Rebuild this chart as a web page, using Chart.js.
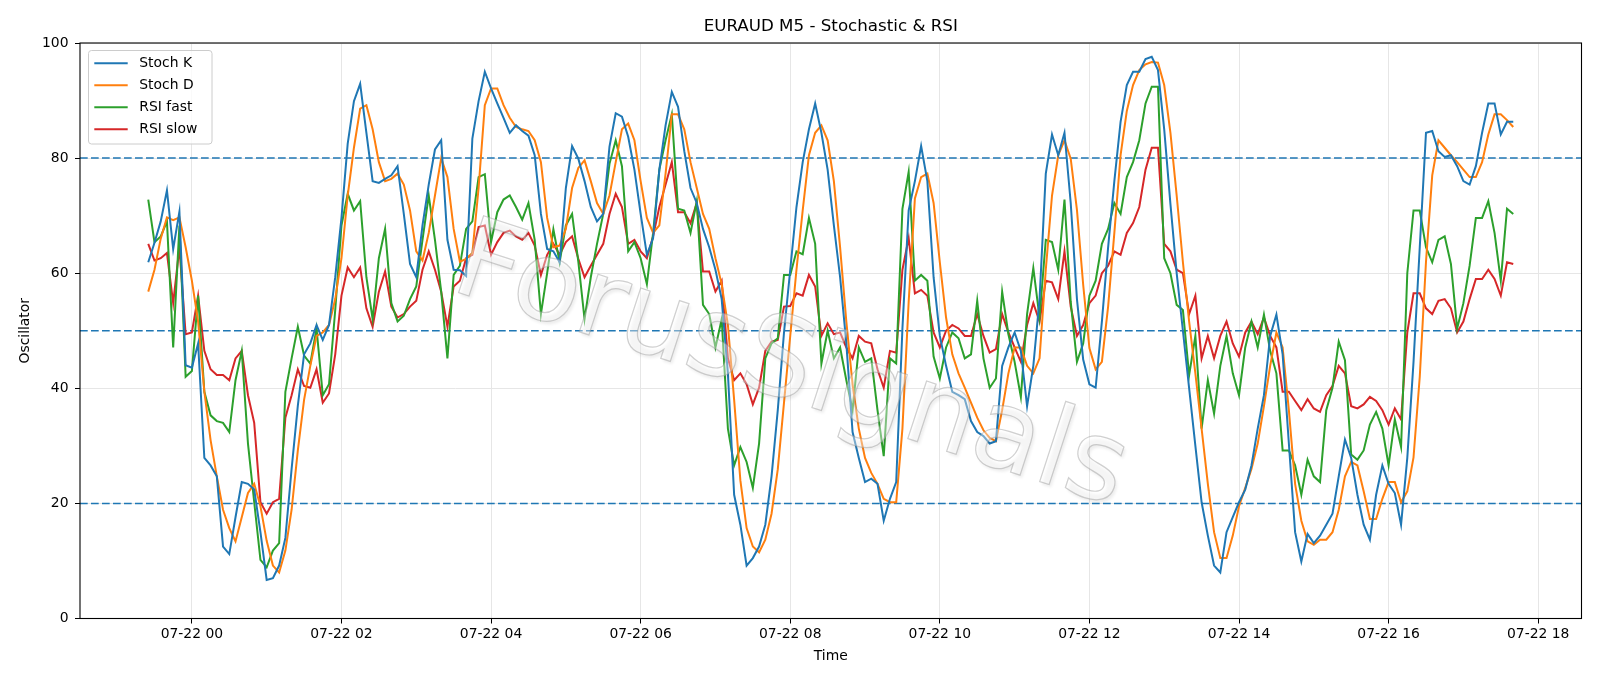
<!DOCTYPE html>
<html>
<head>
<meta charset="utf-8">
<title>EURAUD M5 - Stochastic & RSI</title>
<script src="https://cdn.jsdelivr.net/npm/chart.js@4.4.1/dist/chart.umd.min.js"></script>
<style>
    html, body { margin: 0; padding: 0; background: #fff; }
    canvas { display: block; }
</style>
</head>
<body>
<canvas id="grafica" width="1600" height="686"></canvas>
<script>
// Barras M5 desde 07-21 23:25 (minutos respecto a 07-22 00:00)
const inicioMin = -35;
const pasoMin = 5;

const stochK = [
    61.9, 65.3, 69, 74.4, 64.2, 70.7, 44, 43.6, 47.8, 27.9,
    26.6, 24.7, 12.5, 11.2, 17.6, 23.7, 23.4, 22.4, 15, 6.7,
    7, 9.2, 14, 26, 37, 45.9, 47.8, 51, 48.4, 51,
    59.3, 69.6, 82.5, 89.9, 92.9, 84.4, 76, 75.7, 76.4, 77,
    78.6, 70.3, 61.6, 59.3, 68.3, 75.4, 81.5, 83.1, 65.8, 60.6,
    60.5, 59.5, 83.4, 89.9, 95, 92.1, 89.5, 87, 84.4, 85.7,
    84.7, 83.9, 80.5, 70.3, 64.2, 63.8, 61.9, 74.8, 82.1, 79.9,
    76, 71.5, 69, 70.3, 82, 87.8, 87.2, 83.7, 78, 70.3,
    63.2, 66.1, 78, 85.7, 91.5, 88.9, 81.2, 74.8, 72.2, 67.7,
    64.5, 60.6, 55.5, 42.6, 21.5, 16.3, 9.2, 10.5, 12.5, 16.3,
    24.7, 36.2, 49.7, 60.6, 71.5, 79.3, 85, 89.5, 84.4, 78,
    68.3, 59.3, 47.8, 32.4, 27.9, 23.7, 24.3, 23.4, 17, 20.8,
    23.7, 50.4, 70.9, 76, 82.1, 76, 59.3, 49.1, 43.9, 39.4,
    38.8, 38.1, 34.3, 32.4, 31.7, 30.4, 30.8, 43.9, 47.1, 49.7,
    46.5, 36.9, 43.9, 55.5, 77.3, 84.1, 80.5, 84.4, 72.2, 55.5,
    45, 40.7, 40.1, 51.6, 64.5, 76, 86.3, 92.7, 95, 95,
    97.2, 97.6, 95.3, 85, 72, 60, 50, 40, 30, 20.2,
    14.4, 9.2, 8, 15, 17.6, 20.2, 22.4, 26.6, 33, 38.8,
    49.1, 52.8, 45.9, 30.4, 15, 9.9, 14.7, 13.1, 14.4, 16.3,
    18.2, 24.7, 31.1, 27.9, 21.5, 16.3, 13.7, 21.5, 26.6, 23.4,
    21.8, 16.3, 27.9, 44.6, 64.5, 84.4, 84.7, 81.2, 80.2, 80.5,
    78.6, 76, 75.4, 78.6, 84.4, 89.5, 89.5, 84.1, 86.3, 86.3
];

const stochD = [
    56.8, 60.6, 66, 69.7, 69.2, 69.7, 64.5, 58.7, 51.6, 39.4,
    31, 24.7, 18.9, 15.7, 13.4, 17.6, 21.8, 23.4, 19.5, 13.5,
    9.2, 8, 11.8, 18.9, 29.2, 38, 43.9, 49.1, 49.7, 51,
    55.5, 62.6, 73.5, 81.8, 88.6, 89.2, 85, 79.3, 76, 76.4,
    77.3, 75.4, 70.9, 63.8, 62.2, 67, 73.5, 80, 76.7, 67.7,
    62, 62.5, 63.5, 74.8, 89.2, 92.1, 92.1, 89.2, 87, 85.4,
    85, 84.7, 83.1, 79.3, 69.6, 64.5, 64.8, 67.7, 74.8, 78.3,
    79.6, 76, 72.2, 70.3, 73.5, 79.3, 85, 86, 83.1, 76,
    69.6, 67, 68.3, 77.3, 87.6, 87.6, 85, 79.3, 74.8, 70.3,
    67.7, 62.6, 58.1, 51, 38, 24, 15.7, 12.5, 11.5, 13.7,
    18.2, 25.9, 37.5, 49.1, 60.6, 70.9, 80.5, 84.4, 85.7, 83.1,
    76, 64.5, 51.6, 40.7, 33, 27.9, 25.3, 23.4, 20.8, 20.2,
    20.2, 33, 55, 73, 76.7, 77.3, 72.2, 61.9, 52.3, 45.9,
    42.6, 40.1, 37.5, 34.9, 32.7, 31.4, 30.8, 36.2, 42.6, 47.1,
    47.1, 43.9, 42.6, 45.2, 60.6, 73.5, 80.5, 83.1, 79.9, 71,
    58, 47, 43.3, 44.6, 54.2, 67, 80.5, 88.2, 92.7, 95.3,
    96.3, 96.7, 96.6, 92.7, 84.4, 73.5, 61.9, 51.6, 42.6, 33,
    23.4, 15, 10.5, 10.5, 14.4, 19.5, 22.7, 26, 30.4, 36.9,
    43.9, 49.7, 47.1, 36.2, 23.4, 17, 13.4, 12.8, 13.7, 13.7,
    15, 18.9, 24.7, 27.2, 26.6, 22.1, 17.3, 17.3, 20.8, 23.7,
    23.7, 20.2, 22.1, 28, 42, 62, 77, 83.1, 81.8, 80.5,
    79.3, 78, 76.7, 76.7, 79.3, 84.1, 87.6, 87.6, 86.6, 85.4
];

const rsiFast = [
    72.8, 65.4, 66.4, 69, 47.1, 68.3, 42, 43, 56.1, 39.4,
    35.3, 34.3, 34, 32.4, 41.4, 46.5, 30.4, 20.2, 10.2, 8.9,
    11.8, 13.1, 39.4, 45.2, 50.7, 45.7, 44.3, 50.4, 38.8, 40.7,
    53.6, 68.3, 73.8, 70.9, 72.5, 59.3, 52, 62.6, 67.7, 54.8,
    51.6, 52.6, 55.5, 57.7, 65.8, 73.5, 65.8, 56.8, 45.2, 59.7,
    61.3, 67.7, 69, 76.7, 77.2, 65.4, 70.6, 72.8, 73.5, 71.5,
    69.3, 72.2, 65.8, 52.9, 60, 67.6, 61.9, 68.3, 70.3, 62,
    52, 59.3, 65.1, 70.3, 79, 83.1, 78.6, 63.8, 65.4, 62.6,
    58.1, 67, 78, 83.1, 87.6, 71.2, 70.9, 67, 72.5, 54.5,
    52.9, 47.1, 52, 33, 26.6, 29.8, 27.2, 22.7, 30.4, 45.2,
    47.8, 48.7, 59.7, 59.7, 63.8, 63.3, 69.6, 65.1, 44.3, 50,
    45.2, 47.1, 41.4, 36.2, 47.1, 44.6, 45.2, 36.2, 28.2, 45.2,
    44.3, 71.2, 77.6, 58.7, 59.7, 58.7, 45.5, 41.7, 47.1, 49.7,
    48.7, 45.2, 45.9, 55.2, 45.2, 40.1, 41.7, 56.8, 49.4, 44.6,
    38.5, 52.9, 60.9, 52.3, 65.8, 65.4, 60.6, 72.8, 55, 44.6,
    47.8, 56.1, 58.7, 65.1, 67.7, 72.2, 70.3, 76.7, 79.3, 83.1,
    89.5, 92.4, 92.4, 62.6, 60, 54.5, 53.6, 42.3, 49.1, 33,
    41.4, 35.6, 43.9, 49.1, 42.6, 38.8, 47.1, 51.6, 47.1, 52.8,
    46.5, 42.6, 29.2, 29.2, 26.6, 21.5, 27.6, 24.7, 23.7, 36.2,
    40.1, 48.1, 44.9, 28.5, 27.6, 29.2, 33.7, 35.9, 33, 26.6,
    34.6, 29.8, 60, 70.9, 70.9, 64.5, 61.9, 65.8, 66.4, 61.6,
    50.4, 54.8, 61.3, 69.6, 69.6, 72.5, 67, 58.7, 71.2, 70.3
];

const rsiSlow = [
    65.1, 62.2, 62.6, 63.5, 54.8, 64.5, 49.4, 49.7, 56.1, 46.5,
    43.3, 42.3, 42.3, 41.4, 45.2, 46.5, 38.8, 34, 20.2, 18.2,
    20.2, 20.8, 34.9, 38.8, 43.3, 40.4, 40.1, 43.3, 37.5, 39.1,
    45.9, 56.1, 61, 59.3, 61, 53.9, 50.7, 56.8, 60.3, 54.2,
    52.3, 52.9, 54.2, 55.2, 60.6, 63.8, 60.6, 56.8, 50.7, 57.7,
    58.7, 62.6, 63.2, 68, 68.3, 63.2, 65.4, 67, 67.4, 66.4,
    65.8, 67, 64.8, 59.7, 63.2, 65.1, 63.2, 65.4, 66.4, 62.5,
    59.3, 61.3, 63.2, 65.1, 70.3, 73.8, 71.5, 65.1, 65.8, 63.8,
    62.6, 66.4, 71.5, 75.4, 79.3, 70.6, 70.6, 68.7, 72.2, 60.3,
    60.3, 56.8, 58.7, 45.2, 41.4, 42.6, 40.7, 37.2, 40.1, 46.5,
    48.1, 48.4, 54.2, 54.3, 56.5, 56.1, 59.7, 57.7, 49.1, 51.3,
    49.4, 49.7, 47.1, 45.2, 49.1, 48.1, 47.8, 43.3, 40.1, 46.5,
    46.2, 60.6, 66.1, 56.5, 57.1, 56.1, 49.7, 47.1, 50, 51,
    50.4, 49.1, 49.1, 52.9, 49.1, 46.2, 46.8, 52.9, 49.7, 47.1,
    44.6, 51, 54.8, 51.6, 58.7, 58.4, 55.5, 63.8, 54.2, 49.1,
    51, 54.8, 56.1, 60, 61.3, 63.8, 63.2, 67, 68.7, 71.5,
    78, 81.8, 81.8, 65.1, 63.8, 60.6, 60, 52.9, 56.1, 45.2,
    49.1, 45.2, 49.1, 51.6, 47.8, 45.5, 49.7, 51.6, 49.4, 52.3,
    49.1, 47.1, 39.4, 39.4, 37.8, 36.2, 38.1, 36.5, 35.9, 38.8,
    40.4, 43.9, 42.6, 36.9, 36.5, 37.2, 38.5, 37.8, 36.2, 33.7,
    36.5, 34.6, 49.7, 56.5, 56.5, 53.9, 52.9, 55.2, 55.5, 53.9,
    49.7, 51.6, 55.5, 59, 59, 60.6, 59, 56.1, 61.9, 61.6
];

const niveles = [20, 50, 80];
const horasTicks = [0, 2, 4, 6, 8, 10, 12, 14, 16, 18];
const fuente = 'DejaVu Sans';

const tiempos = stochK.map((_, i) => inicioMin + i * pasoMin);
// margen de 5% a cada lado, como matplotlib
const rango = tiempos[tiempos.length - 1] - tiempos[0];
const xMin = tiempos[0] - rango * 0.05;
const xMax = tiempos[tiempos.length - 1] + rango * 0.05;

const puntos = (serie) => serie.map((v, i) => ({ x: tiempos[i], y: v }));
const dosDigitos = (n) => (n < 10 ? '0' : '') + n;

const extras = {
    id: 'extras',
    beforeDatasetsDraw(chart) {
        const { ctx, chartArea: a, scales: { y } } = chart;
        ctx.save();
        ctx.strokeStyle = '#1f77b4';
        ctx.lineWidth = 1.5;
        ctx.setLineDash([7.7, 3.3]);
        niveles.forEach(v => {
            const py = y.getPixelForValue(v);
            ctx.beginPath();
            ctx.moveTo(a.left, py);
            ctx.lineTo(a.right, py);
            ctx.stroke();
        });
        ctx.restore();
    },
    afterDatasetsDraw(chart) {
        const { ctx, chartArea: a } = chart;
        // marca de agua
        ctx.save();
        ctx.beginPath();
        ctx.rect(a.left, a.top, a.right - a.left, a.bottom - a.top);
        ctx.clip();
        ctx.translate(790, 370);
        ctx.rotate(18 * Math.PI / 180);
        ctx.font = '90px "' + fuente + '"';
        const texto = 'ForusSignals';
        const escala = 700 / ctx.measureText(texto).width;
        ctx.scale(escala, escala);
        ctx.textAlign = 'center';
        ctx.textBaseline = 'middle';
        ctx.shadowColor = 'rgba(0,0,0,0.18)';
        ctx.shadowOffsetX = 2;
        ctx.shadowOffsetY = 3;
        ctx.shadowBlur = 3;
        ctx.fillStyle = 'rgba(255,255,255,0.4)';
        ctx.fillText(texto, 0, 0);
        ctx.shadowColor = 'transparent';
        ctx.strokeStyle = 'rgba(150,150,150,0.45)';
        ctx.lineWidth = 1;
        ctx.strokeText(texto, 0, 0);
        ctx.restore();

        // marco
        ctx.save();
        ctx.strokeStyle = '#000';
        ctx.lineWidth = 1.1;
        ctx.strokeRect(a.left, a.top, a.right - a.left, a.bottom - a.top);
        ctx.restore();
    },
    afterDraw(chart) {
        const { ctx, chartArea: a } = chart;
        ctx.save();
        // titulo
        ctx.fillStyle = '#000';
        ctx.font = '16.7px "' + fuente + '"';
        ctx.textAlign = 'center';
        ctx.textBaseline = 'middle';
        ctx.fillText('EURAUD M5 - Stochastic & RSI', (a.left + a.right) / 2, 26.5);

        // leyenda
        const x0 = 88.5, y0 = 50.5, w = 123.5, h = 93.5, r = 3;
        ctx.beginPath();
        ctx.moveTo(x0 + r, y0);
        ctx.arcTo(x0 + w, y0, x0 + w, y0 + h, r);
        ctx.arcTo(x0 + w, y0 + h, x0, y0 + h, r);
        ctx.arcTo(x0, y0 + h, x0, y0, r);
        ctx.arcTo(x0, y0, x0 + w, y0, r);
        ctx.closePath();
        ctx.fillStyle = 'rgba(255,255,255,0.8)';
        ctx.fill();
        ctx.strokeStyle = '#cccccc';
        ctx.lineWidth = 1;
        ctx.stroke();

        ctx.font = '13.9px "' + fuente + '"';
        ctx.textAlign = 'left';
        chart.data.datasets.forEach((ds, i) => {
            const yy = 63.3 + i * 22;
            ctx.strokeStyle = ds.borderColor;
            ctx.lineWidth = 2;
            ctx.beginPath();
            ctx.moveTo(94.3, yy);
            ctx.lineTo(127.7, yy);
            ctx.stroke();
            ctx.fillStyle = '#000';
            ctx.fillText(ds.label, 139.3, yy);
        });
        ctx.restore();
    }
};

const ctx = document.getElementById('grafica').getContext('2d');
new Chart(ctx, {
    type: 'line',
    data: {
        datasets: [
            { label: 'Stoch K', data: puntos(stochK), borderColor: '#1f77b4' },
            { label: 'Stoch D', data: puntos(stochD), borderColor: '#ff7f0e' },
            { label: 'RSI fast', data: puntos(rsiFast), borderColor: '#2ca02c' },
            { label: 'RSI slow', data: puntos(rsiSlow), borderColor: '#d62728' }
        ]
    },
    options: {
        responsive: false,
        animation: false,
        devicePixelRatio: 1,
        layout: { padding: { top: 43, right: 18.5, bottom: 0, left: 0 } },
        elements: {
            point: { radius: 0 },
            line: { borderWidth: 2, tension: 0, fill: false }
        },
        plugins: {
            legend: { display: false },
            title: { display: false },
            tooltip: { enabled: false }
        },
        scales: {
            x: {
                type: 'linear',
                min: xMin,
                max: xMax,
                afterFit: (s) => { s.height = 67.5; },
                afterBuildTicks: (s) => { s.ticks = horasTicks.map(hh => ({ value: hh * 60 })); },
                grid: { color: '#e6e6e6', lineWidth: 1, tickLength: 5, tickColor: '#000' },
                border: { display: false },
                ticks: {
                    color: '#000',
                    font: { family: fuente, size: 13.9 },
                    padding: 3,
                    maxRotation: 0,
                    autoSkip: false,
                    callback: (v) => '07-22 ' + dosDigitos(Math.round(v / 60))
                },
                title: {
                    display: true,
                    text: 'Time',
                    color: '#000',
                    font: { family: fuente, size: 13.9 },
                    padding: { top: 0, bottom: 21.5 }
                }
            },
            y: {
                min: 0,
                max: 100,
                afterFit: (s) => { s.width = 80; },
                grid: { color: '#e6e6e6', lineWidth: 1, tickLength: 5, tickColor: '#000' },
                border: { display: false },
                ticks: {
                    stepSize: 20,
                    color: '#000',
                    font: { family: fuente, size: 13.9 },
                    padding: 6.5
                },
                title: {
                    display: true,
                    text: 'Oscillator',
                    color: '#000',
                    font: { family: fuente, size: 13.9 },
                    padding: { top: 16.7, bottom: 0 }
                }
            }
        }
    },
    plugins: [extras]
});
</script>
</body>
</html>
